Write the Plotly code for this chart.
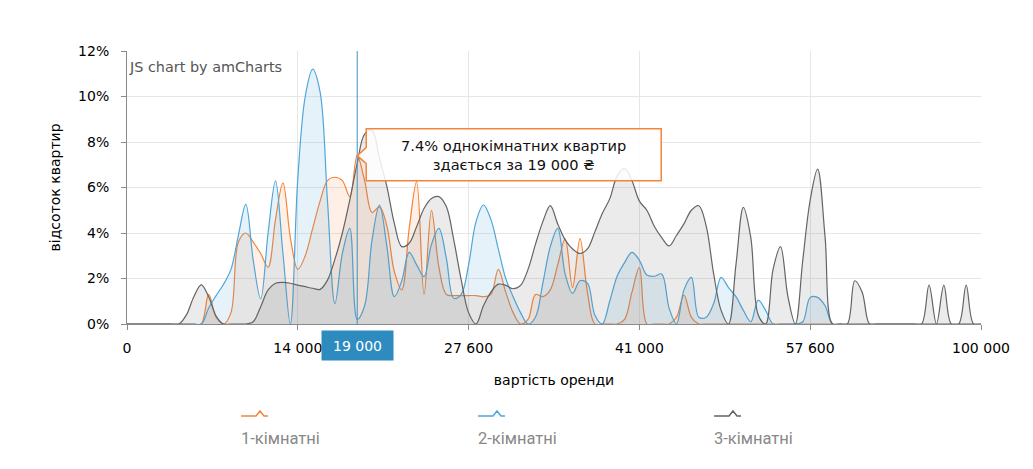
import plotly.graph_objects as go

# Category axis: rental price buckets (UAH)
prices = [0, 3000, 3500, 4000, 4500, 5000, 5500, 6000, 6500, 7000, 7500, 8000, 8500, 9000, 9500,
          10000, 10500, 11000, 11500, 12000, 12500, 13000, 13500, 14000,
          14500, 15000, 15500, 16000, 17000, 17500, 18000, 19000,
          19500, 20000, 20500, 21000, 21500, 22000, 22500, 23000, 23500, 24000, 25000, 25500, 26000, 27000, 27600,
          28000, 28500, 29000, 29500, 30000, 31000, 31500, 32000, 32500, 33000, 33500, 34000, 34500, 35000,
          36000, 36500, 37000, 37500, 38000, 39000, 39500, 40000, 41000,
          42000, 42500, 43000, 44000, 45000, 45500, 46000, 47000, 48000, 48500, 49000, 50000, 51000, 52000,
          53000, 53500, 54000, 55000, 55500, 56000, 56500, 57000, 57600,
          58000, 60000, 61000, 62000, 63000, 64000, 65000, 66000, 67000, 68000, 70000, 72000, 73000, 75000,
          77000, 78000, 80000, 82000, 85000, 88000, 90000, 95000, 100000]

label_prices = [0, 14000, 27600, 41000, 57600, 100000]

# share of flats (%) per price bucket
one_room = [0, 0, 0, 0, 0, 0, 0, 0, 0, 0,
            0, 1.3, 0.3, 0, 0.5, 3.6, 4.0, 3.6, 3.1, 2.5,
            4.6, 6.2, 3.8, 2.4, 3.0, 4.2, 5.4, 6.3, 6.45, 6.3,
            5.6, 7.4, 6.3, 4.9, 5.15, 4.3, 2.3, 1.5, 4.2, 6.26,
            1.3, 5.0, 2.5, 1.3, 1.25, 1.25, 1.25, 1.25, 1.2, 1.3,
            2.4, 1.4, 0.5, 0, 0.2, 1.3, 1.2, 1.5, 2.6, 3.74,
            1.6, 3.75, 1.4, 0, 0, 0, 0, 0.2, 1.4, 2.48,
            0, 0, 0, 0, 0.3, 1.27, 0.3, 0, 0, 0,
            0, 0, 0, 0, 0, 0, 0, 0, 0, 0,
            0, 0, 0, 0, 0, 0, 0, 0, 0, 0,
            0, 0, 0, 0, 0, 0, 0, 0, 0, 0,
            0, 0, 0, 0, 0, 0]

two_room = [0, 0, 0, 0, 0, 0, 0, 0, 0, 0,
            0, 0.7, 1.25, 1.75, 2.4, 3.9, 5.26, 2.8, 1.1, 4.0,
            6.29, 3.1, 0, 6.4, 10.0, 11.2, 10.2, 5.4, 0.9, 3.1,
            4.2, 0.2, 0.8, 3.7, 5.23, 3.4, 1.2, 1.9, 3.15, 2.6,
            2.08, 3.5, 4.2, 2.9, 1.13, 1.3, 2.6, 4.5, 5.23, 4.6,
            3.3, 2.0, 1.2, 0.5, 0, 0.3, 1.8, 3.4, 4.2, 2.2,
            1.35, 1.9, 1.8, 0.4, 0, 1.0, 2.1, 2.7, 3.15, 2.8,
            2.15, 2.1, 2.2, 0.7, 0, 1.5, 2.05, 0.3, 0.3, 0.9,
            2.05, 1.6, 1.2, 0.6, 0.1, 1.05, 0.6, 0, 0, 0,
            0, 0.1, 1.17, 1.17, 0.8, 0, 0, 0, 0, 0,
            0, 0, 0, 0, 0, 0, 0, 0, 0, 0,
            0, 0, 0, 0, 0, 0]

three_room = [0, 0, 0, 0, 0, 0, 0, 0, 0.4, 1.2,
              1.72, 1.2, 0.35, 0, 0, 0, 0, 0.1, 0.76, 1.5,
              1.79, 1.83, 1.79, 1.71, 1.64, 1.57, 1.52, 1.93, 2.85, 4.0,
              5.45, 7.06, 8.35, 8.5, 7.28, 6.04, 4.42, 3.4, 3.55, 4.28,
              5.08, 5.52, 5.6, 5.16, 3.7, 1.95, 0.5, 0, 0.8, 1.4,
              1.75, 1.7, 1.55, 1.7, 2.4, 3.5, 4.5, 5.2, 4.4, 3.7,
              3.3, 3.1, 3.3, 4.05, 4.86, 5.5, 6.5, 6.84, 6.3, 5.4,
              5.0, 4.3, 3.8, 3.43, 3.9, 4.4, 5.0, 5.2, 4.3, 2.2,
              0.6, 0, 2.6, 5.13, 3.8, 0.4, 0, 2.4, 3.4, 1.2,
              0, 2.8, 5.45, 6.81, 3.84, 0, 0, 0, 1.9, 1.4,
              0, 0, 0, 0, 0, 0, 0, 0, 1.71, 0,
              1.71, 0, 0, 1.71, 0, 0]

series_names = ["1-кімнатні", "2-кімнатні", "3-кімнатні"]
line_colors = ["#f5843a", "#4ea6da", "#646464"]
fill_colors = ["rgba(245,132,58,0.12)", "rgba(78,166,218,0.14)", "rgba(110,110,110,0.14)"]

cursor_price = 19000

FONT = "DejaVu Sans, Verdana, sans-serif"
x_idx = list(range(len(prices)))


def fmt(p):
    return f"{p:,}".replace(",", " ")


fig = go.Figure()
for vals, name, lc, fc in zip([one_room, two_room, three_room], series_names, line_colors, fill_colors):
    fig.add_trace(go.Scatter(
        x=x_idx, y=vals, name=name, mode="lines",
        line=dict(color=lc, width=1.2, shape="spline", smoothing=1.0),
        fill="tozeroy", fillcolor=fc, showlegend=False, hoverinfo="skip"))

tickvals = [i for i, p in enumerate(prices) if p in label_prices]
ticktext = [fmt(prices[i]) for i in tickvals]

L, R, T, B = 127, 52, 51, 145
W, H = 1033 - L - R, 469 - T - B


def pxx(X):
    return (X - L) / W


def pxy(Y):
    return (T + H - Y) / H


cidx = prices.index(cursor_price)
cval = one_room[cidx]

shapes = []
annotations = []

# cursor line
shapes.append(dict(type="line", xref="x", yref="paper", x0=cidx, x1=cidx, y0=0, y1=1,
                   line=dict(color="#3b92c7", width=1), layer="above"))
# cursor pointer triangle
shapes.append(dict(type="path", xref="x", yref="y", xsizemode="pixel", ysizemode="pixel",
                   xanchor=cidx, yanchor=0, path="M -6,-6 L 0,0 L 6,-6 Z",
                   fillcolor="#2d8bc0", line=dict(color="#2d8bc0", width=0), layer="above"))
annotations.append(dict(x=cidx, y=0, xref="x", yref="y", yanchor="top", yshift=-6,
                        text=fmt(cursor_price), showarrow=False, bgcolor="#2d8bc0",
                        width=69, height=27, borderpad=1,
                        font=dict(family=FONT, size=14, color="white")))

# balloon
shapes.append(dict(type="path", xref="x", yref="y", xsizemode="pixel", ysizemode="pixel",
                   xanchor=cidx, yanchor=cval,
                   path="M 9,27 L 304,27 L 304,-25 L 9,-25 L 9,-8 L 0,0 L 9,8 Z",
                   fillcolor="rgba(255,255,255,0.85)", line=dict(color="#f5843a", width=1.5),
                   layer="above"))
annotations.append(dict(x=cidx, y=cval, xref="x", yref="y", xshift=156, yshift=1,
                        text=f"{cval}% однокімнатних квартир<br>здається за {fmt(cursor_price)} ₴",
                        showarrow=False, align="center",
                        font=dict(family=FONT, size=14.6, color="#111")))

# credit
annotations.append(dict(x=0, y=1, xref="paper", yref="paper", xanchor="left", yanchor="top",
                        xshift=0, yshift=-6, text="JS chart by amCharts", showarrow=False,
                        font=dict(family=FONT, size=14.4, color="#555")))

# custom legend
leg_x = [241, 478, 714]
for x0, name, lc in zip(leg_x, series_names, line_colors):
    pts = [(x0, 416), (x0 + 15, 416), (x0 + 19, 411), (x0 + 23, 416), (x0 + 27, 416)]
    path = "M " + " L ".join(f"{pxx(a):.5f},{pxy(b):.5f}" for a, b in pts)
    shapes.append(dict(type="path", xref="paper", yref="paper", path=path,
                       line=dict(color=lc, width=1.5)))
    annotations.append(dict(x=pxx(x0 - 2), y=pxy(438), xref="paper", yref="paper",
                            xanchor="left", yanchor="middle", text=name, showarrow=False,
                            font=dict(family="Roboto, sans-serif", size=16.5, color="#888")))

fig.update_layout(
    width=1033, height=469,
    margin=dict(l=L, r=R, t=T, b=B),
    paper_bgcolor="white", plot_bgcolor="white",
    shapes=shapes, annotations=annotations,
    showlegend=False,
    xaxis=dict(range=[0, len(prices) - 1], tickvals=tickvals, ticktext=ticktext,
               showgrid=True, gridcolor="#e6e6e6", gridwidth=1,
               showline=True, linecolor="#8a8a8a", linewidth=1,
               ticks="outside", ticklen=5, tickcolor="#8a8a8a",
               zeroline=False, ticklabelstandoff=6,
               tickfont=dict(family=FONT, size=14, color="#000"),
               title=dict(text="вартість оренди", standoff=20,
                          font=dict(family=FONT, size=14, color="#000"))),
    yaxis=dict(range=[0, 12], dtick=2, ticksuffix="%",
               showgrid=True, gridcolor="#e6e6e6", gridwidth=1,
               showline=True, linecolor="#8a8a8a", linewidth=1,
               ticks="outside", ticklen=5, tickcolor="#8a8a8a",
               zeroline=False, ticklabelstandoff=9,
               tickfont=dict(family=FONT, size=14, color="#000"),
               title=dict(text="відсоток квартир", standoff=14,
                          font=dict(family=FONT, size=14, color="#000"))),
)

fig.write_html("out.html")
